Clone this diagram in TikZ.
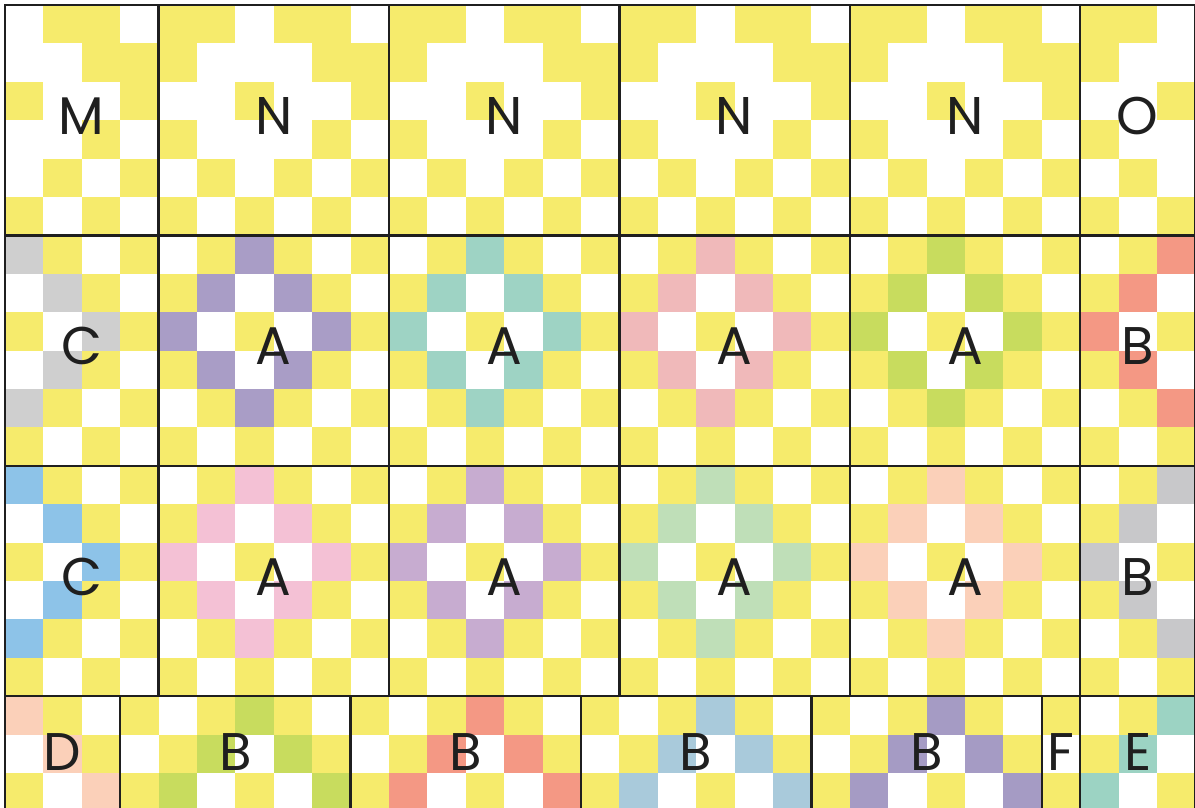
\documentclass[tikz,border=0pt]{standalone}
\usepackage{fontspec}
\newfontfamily\lblfam{Poppins}
\definecolor{cY}{HTML}{F6EB6C}
\definecolor{cW}{HTML}{FFFFFF}
\definecolor{cg}{HTML}{CFCFCF}
\definecolor{cp}{HTML}{A99DC6}
\definecolor{ct}{HTML}{9ED3C4}
\definecolor{ck}{HTML}{F0B9BA}
\definecolor{cn}{HTML}{C8DC5E}
\definecolor{cs}{HTML}{F49884}
\definecolor{cb}{HTML}{8DC3E8}
\definecolor{cq}{HTML}{F4C1D5}
\definecolor{cl}{HTML}{C7ACD0}
\definecolor{ch}{HTML}{BFDFB8}
\definecolor{ce}{HTML}{FBD0B9}
\definecolor{cx}{HTML}{C8C8CA}
\definecolor{cu}{HTML}{A9CADB}
\definecolor{cv}{HTML}{A59BC4}
\definecolor{cm}{HTML}{9CD3C3}
\newcommand\cellrow[2]{%
  \foreach \k [count=\c from 0] in {#2} {%
    \fill[fill=c\k] ({5+38.4*\c},{5+38.4*#1}) rectangle ++(38.4,38.4);
  }%
}
\tikzset{
  lbl/.style={font=\lblfam\fontsize{53}{53}\selectfont, inner sep=0pt, text=black!88},
  blk/.style={draw=black!88, line width=2.5pt},
}
\begin{document}
\begin{tikzpicture}[x=1pt,y=-1pt]
\useasboundingbox (0,0) rectangle (1195,807);
\clip (0,0) rectangle (1195,807);
\fill[white] (0,0) rectangle (1195,807);
% band 1
\cellrow{0}{W,Y,Y,W, Y,Y,W,Y,Y,W, Y,Y,W,Y,Y,W, Y,Y,W,Y,Y,W, Y,Y,W,Y,Y,W, Y,Y,W}
\cellrow{1}{W,W,Y,Y, Y,W,W,W,Y,Y, Y,W,W,W,Y,Y, Y,W,W,W,Y,Y, Y,W,W,W,Y,Y, Y,W,W}
\cellrow{2}{Y,W,W,Y, W,W,Y,W,W,Y, W,W,Y,W,W,Y, W,W,Y,W,W,Y, W,W,Y,W,W,Y, W,W,Y}
\cellrow{3}{W,W,Y,W, Y,W,W,W,Y,W, Y,W,W,W,Y,W, Y,W,W,W,Y,W, Y,W,W,W,Y,W, Y,W,W}
\cellrow{4}{W,Y,W,Y, W,Y,W,Y,W,Y, W,Y,W,Y,W,Y, W,Y,W,Y,W,Y, W,Y,W,Y,W,Y, W,Y,W}
\cellrow{5}{Y,W,Y,W, Y,W,Y,W,Y,W, Y,W,Y,W,Y,W, Y,W,Y,W,Y,W, Y,W,Y,W,Y,W, Y,W,Y}
% band 2
\cellrow{6}{g,Y,W,Y, W,Y,p,Y,W,Y, W,Y,t,Y,W,Y, W,Y,k,Y,W,Y, W,Y,n,Y,W,Y, W,Y,s}
\cellrow{7}{W,g,Y,W, Y,p,W,p,Y,W, Y,t,W,t,Y,W, Y,k,W,k,Y,W, Y,n,W,n,Y,W, Y,s,W}
\cellrow{8}{Y,W,g,Y, p,W,Y,W,p,Y, t,W,Y,W,t,Y, k,W,Y,W,k,Y, n,W,Y,W,n,Y, s,W,Y}
\cellrow{9}{W,g,Y,W, Y,p,W,p,Y,W, Y,t,W,t,Y,W, Y,k,W,k,Y,W, Y,n,W,n,Y,W, Y,s,W}
\cellrow{10}{g,Y,W,Y, W,Y,p,Y,W,Y, W,Y,t,Y,W,Y, W,Y,k,Y,W,Y, W,Y,n,Y,W,Y, W,Y,s}
\cellrow{11}{Y,W,Y,W, Y,W,Y,W,Y,W, Y,W,Y,W,Y,W, Y,W,Y,W,Y,W, Y,W,Y,W,Y,W, Y,W,Y}
% band 3
\cellrow{12}{b,Y,W,Y, W,Y,q,Y,W,Y, W,Y,l,Y,W,Y, W,Y,h,Y,W,Y, W,Y,e,Y,W,Y, W,Y,x}
\cellrow{13}{W,b,Y,W, Y,q,W,q,Y,W, Y,l,W,l,Y,W, Y,h,W,h,Y,W, Y,e,W,e,Y,W, Y,x,W}
\cellrow{14}{Y,W,b,Y, q,W,Y,W,q,Y, l,W,Y,W,l,Y, h,W,Y,W,h,Y, e,W,Y,W,e,Y, x,W,Y}
\cellrow{15}{W,b,Y,W, Y,q,W,q,Y,W, Y,l,W,l,Y,W, Y,h,W,h,Y,W, Y,e,W,e,Y,W, Y,x,W}
\cellrow{16}{b,Y,W,Y, W,Y,q,Y,W,Y, W,Y,l,Y,W,Y, W,Y,h,Y,W,Y, W,Y,e,Y,W,Y, W,Y,x}
\cellrow{17}{Y,W,Y,W, Y,W,Y,W,Y,W, Y,W,Y,W,Y,W, Y,W,Y,W,Y,W, Y,W,Y,W,Y,W, Y,W,Y}
% band 4
\cellrow{18}{e,Y,W, Y,W,Y,n,Y,W, Y,W,Y,s,Y,W, Y,W,Y,u,Y,W, Y,W,Y,v,Y,W, Y, W,Y,m}
\cellrow{19}{W,e,Y, W,Y,n,W,n,Y, W,Y,s,W,s,Y, W,Y,u,W,u,Y, W,Y,v,W,v,Y, W, Y,m,W}
\cellrow{20}{Y,W,e, Y,n,W,Y,W,n, Y,s,W,Y,W,s, Y,u,W,Y,W,u, Y,v,W,Y,W,v, Y, m,W,Y}
% block outlines, bands 1-3
\foreach \yt/\yb in {5/235.4, 235.4/465.8, 465.8/696.2} {
  \foreach \xl/\xr in {5/158.6, 158.6/389, 389/619.4, 619.4/849.8, 849.8/1080.2, 1080.2/1195.4} {
    \draw[blk] (\xl,\yt) rectangle (\xr,\yb);
  }
}
% band 4 outlines
\foreach \xl/\xr in {5/120.2, 120.2/350.6, 350.6/581, 581/811.4, 811.4/1041.8, 1041.8/1080.2, 1080.2/1195.4} {
  \draw[blk] (\xl,696.2) rectangle (\xr,811.4);
}
% labels
\node[lbl] (lM)  at (81.8,116) {M};
\node[lbl] (lN1) at (273.8,116) {N};
\node[lbl] (lN2) at (504.2,116) {N};
\node[lbl] (lN3) at (734.6,116) {N};
\node[lbl] (lN4) at (965,116) {N};
\node[lbl] (lO)  at (1137.8,116) {O};
\node[lbl] (lC1) at (81.8,346) {C};
\node[lbl] (lA1) at (273.8,346) {A};
\node[lbl] (lA2) at (504.2,346) {A};
\node[lbl] (lA3) at (734.6,346) {A};
\node[lbl] (lA4) at (965,346) {A};
\node[lbl] (lB1) at (1137.8,346) {B};
\node[lbl] (lC2) at (81.8,577) {C};
\node[lbl] (lA5) at (273.8,577) {A};
\node[lbl] (lA6) at (504.2,577) {A};
\node[lbl] (lA7) at (734.6,577) {A};
\node[lbl] (lA8) at (965,577) {A};
\node[lbl] (lB2) at (1137.8,577) {B};
\node[lbl] (lD)  at (62.6,752) {D};
\node[lbl] (lB3) at (235.4,752) {B};
\node[lbl] (lB4) at (465.8,752) {B};
\node[lbl] (lB5) at (696.2,752) {B};
\node[lbl] (lB6) at (926.6,752) {B};
\node[lbl] (lF)  at (1061,752) {F};
\node[lbl] (lE)  at (1137.8,752) {E};
\end{tikzpicture}
\end{document}
